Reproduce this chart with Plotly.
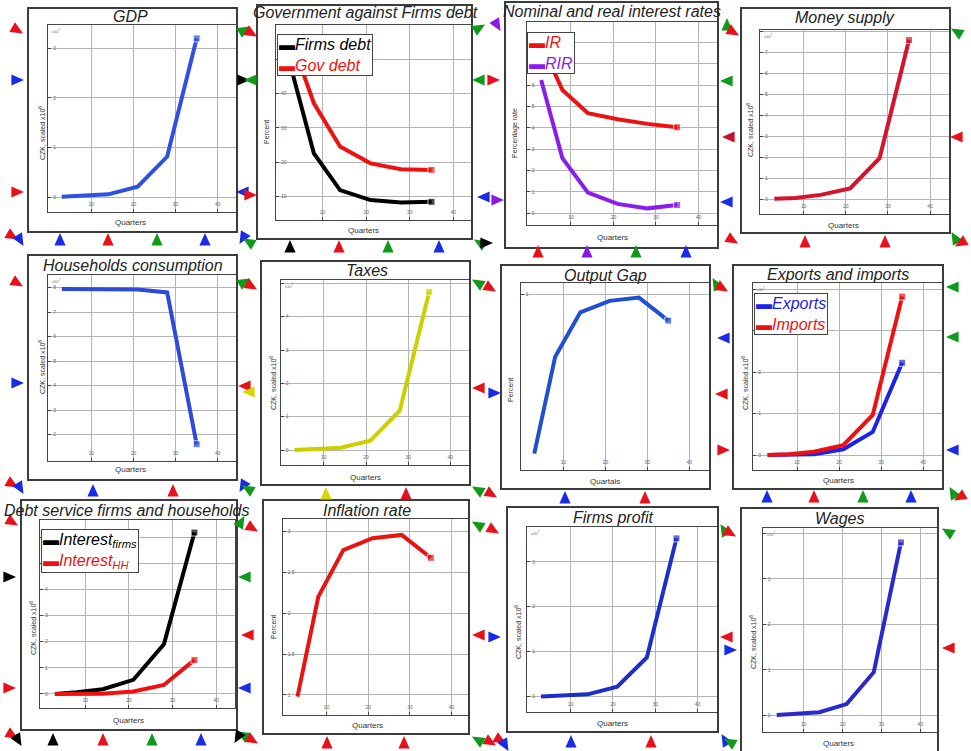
import math
import plotly.graph_objects as go

W, H = 971, 751

# ---------------- data ----------------
quarters = [3, 8, 14, 21, 28, 35]
x_ticks = [0, 10, 20, 30, 40]

gdp = [0.013, 0.027, 0.06, 0.215, 0.82, 3.2]
firms_debt = [46.4, 22.6, 11.9, 9.0, 8.3, 8.5]
gov_debt = [55.1, 37.2, 24.6, 19.7, 18.0, 17.8]
ir = [7.97, 5.78, 4.69, 4.41, 4.19, 4.03]
rir = [6.25, 2.58, 0.97, 0.44, 0.23, 0.39]
money_supply = [0.03, 0.06, 0.21, 0.52, 1.95, 7.57]
hh_consumption = [7.95, 7.95, 7.95, 7.93, 7.81, 1.61]
taxes = [0.0, 0.02, 0.07, 0.28, 1.18, 4.75]
output_gap = [0.03, 0.62, 0.89, 0.96, 0.98, 0.84]
exports = [0.0, 0.01, 0.02, 0.14, 0.56, 2.23]
imports = [0.0, 0.02, 0.08, 0.24, 0.97, 3.83]
interest_firms = [0.0, 0.06, 0.18, 0.54, 1.90, 6.17]
interest_hh = [0.0, 0.0, 0.01, 0.09, 0.34, 1.30]
inflation = [-0.04, 2.41, 3.55, 3.84, 3.92, 3.36]
firms_profit = [0.0, 0.015, 0.05, 0.22, 0.87, 3.52]
wages = [0.01, 0.03, 0.07, 0.25, 0.95, 3.80]

titles = ["GDP", "Government against Firms debt", "Nominal and real interest rates",
          "Money supply", "Households consumption", "Taxes", "Output Gap",
          "Exports and imports", "Debt service firms and households",
          "Inflation rate", "Firms profit", "Wages"]
czk = "CZK, scaled x10<sup>6</sup>"

# ---------------- helpers ----------------
def px(x):
    return x / W

def py(y):
    return 1 - y / H

RED = "#ee1111"

# yt / ytt: labelled y ticks; gstep: spacing of the horizontal grid lines
panels = [
    dict(frame=(28, 8, 237, 232), plot=(48.3, 25, 236.7, 211.7), xr=(-0.2, 44.5), yr=(-0.29, 3.47),
         yt=[0, 1, 2, 3], ytt=["0", "1", "2", "3"], gstep=1, tpos=(130, 16), ytitle=czk,
         ytpos=(42, 133), xtitle="Quarters", xtpos=(130, 222), mult=True,
         series=[("GDP", gdp, "#3050e2")]),
    dict(frame=(257, 5, 472, 239), plot=(276, 25, 472, 220), xr=(-0.7, 44.3), yr=(3.2, 60),
         yt=[10, 20, 30, 40], ytt=["10", "20", "30", "40"], gstep=10, tpos=(365, 13),
         ytitle="Percent", ytpos=(267, 132), xtitle="Quarters", xtpos=(363, 230), mult=False,
         series=[("Firms debt", firms_debt, "#000000"), ("Gov debt", gov_debt, RED)],
         legend=(277, 34)),
    dict(frame=(505, 2, 718, 248), plot=(526.7, 21.7, 716.7, 225), xr=(-0.4, 44.3), yr=(-0.55, 8.98),
         yt=list(range(0, 7)), ytt=[str(v) for v in range(0, 7)], gstep=1, tpos=(612, 12),
         ytitle="Percentage rate", ytpos=(515, 133), xtitle="Quarters", xtpos=(612, 237), mult=False,
         series=[("IR", ir, RED), ("RIR", rir, "#8a1cf0")], legend=(527, 32)),
    dict(frame=(741, 8, 950, 233), plot=(760, 30, 949, 214), xr=(-0.4, 44.5), yr=(-0.7, 8.05),
         yt=list(range(0, 8)), ytt=[str(v) for v in range(0, 8)], gstep=1, tpos=(845, 17),
         ytitle=czk, ytpos=(750, 130), xtitle="Quarters", xtpos=(843, 225), mult=True,
         series=[("Money supply", money_supply, "#d3142c")]),
    dict(frame=(28, 255, 237, 480), plot=(48.3, 275, 236.7, 460.7), xr=(-0.2, 44.5), yr=(0.94, 8.52),
         yt=list(range(2, 9)), ytt=[str(v) for v in range(2, 9)], gstep=1, tpos=(133, 265),
         ytitle=czk, ytpos=(42, 367), xtitle="Quarters", xtpos=(130, 470), mult=True,
         series=[("Households consumption", hh_consumption, "#2d4ad8")]),
    dict(frame=(261, 261, 470, 485), plot=(280.7, 280, 469.3, 465), xr=(-0.24, 44.5), yr=(-0.45, 5.1),
         yt=list(range(0, 5)), ytt=[str(v) for v in range(0, 5)], gstep=1, tpos=(367, 270),
         ytitle=czk, ytpos=(273, 383), xtitle="Quarters", xtpos=(365, 477), mult=True,
         series=[("Taxes", taxes, "#cdd000")]),
    dict(frame=(501, 265, 710, 489), plot=(520.7, 283.3, 709.3, 470), xr=(-0.24, 44.8), yr=(-0.07, 1.067),
         yt=[1], ytt=["1"], gstep=None, tpos=(605, 275), ytitle="Percent", ytpos=(510, 390),
         xtitle="Quartals", xtpos=(605, 481), mult=False,
         series=[("Output gap", output_gap, "#2050d0")]),
    dict(frame=(733, 265, 943, 489), plot=(753.3, 283.3, 941.7, 470), xr=(-0.4, 44.4), yr=(-0.36, 4.15),
         yt=[0, 1, 2], ytt=["0", "1", "2"], gstep=1, tpos=(838, 274), ytitle=czk,
         ytpos=(745, 383), xtitle="Quarters", xtpos=(838, 480), mult=True,
         series=[("Exports", exports, "#1c22e8"), ("Imports", imports, RED)], legend=(754, 293)),
    dict(frame=(21, 500, 237, 730), plot=(40, 520, 235, 708.3), xr=(-0.4, 44.3), yr=(-0.55, 6.65),
         yt=list(range(0, 5)), ytt=[str(v) for v in range(0, 5)], gstep=1, tpos=(126, 510),
         ytitle=czk, ytpos=(33, 628), xtitle="Quarters", xtpos=(128, 720), mult=False,
         series=[("Interest<sub>firms</sub>", interest_firms, "#000000"),
                 ("Interest<sub>HH</sub>", interest_hh, RED)], legend=(41, 529)),
    dict(frame=(263, 500, 469, 734), plot=(282.7, 519, 468.7, 715), xr=(-0.55, 44.1), yr=(-0.49, 4.31),
         yt=[0, 1, 2, 3, 4], ytt=["1", "1.5", "2", "2.5", "3"], gstep=1, tpos=(367, 510),
         ytitle="Percent", ytpos=(273, 627), xtitle="Quarters", xtpos=(367, 725), mult=False,
         series=[("Inflation rate", inflation, "#e81414")]),
    dict(frame=(507, 507, 718, 732), plot=(527.3, 526.7, 716.7, 712.3), xr=(-0.24, 44.5), yr=(-0.35, 3.78),
         yt=[0, 1, 2, 3], ytt=["0", "1", "2", "3"], gstep=1, tpos=(613, 517), ytitle=czk,
         ytpos=(518, 632), xtitle="Quarters", xtpos=(612, 723), mult=True,
         series=[("Firms profit", firms_profit, "#1e2ec8")]),
    dict(frame=(741, 508, 938, 770), plot=(762.7, 528.3, 936.7, 732.3), xr=(-0.6, 44.2), yr=(-0.37, 4.11),
         yt=[0, 1, 2, 3], ytt=["0", "1", "2", "3"], gstep=1, tpos=(840, 518), ytitle=czk,
         ytpos=(753, 642), xtitle="Quarters", xtpos=(838, 743), mult=True,
         series=[("Wages", wages, "#2a2acc")]),
]

fig = go.Figure()
shapes = []
annotations = []
layout_axes = {}

TXT = "#222222"
FONT = "Liberation Sans, Arial, sans-serif"
GRID = "#b4b4b4"

for i, p in enumerate(panels, start=1):
    sx = "" if i == 1 else str(i)
    l, t, r, b = p["plot"]
    common = dict(showgrid=True, gridcolor=GRID, gridwidth=1.2, showline=True,
                  linecolor="#444444", linewidth=1, mirror=True, ticks="inside", ticklen=3,
                  tickcolor="#444444", ticklabelposition="inside",
                  tickfont=dict(size=5, color="#666666", family=FONT), zeroline=False,
                  fixedrange=True)
    layout_axes["xaxis" + sx] = dict(domain=[px(l), px(r)], anchor="y" + sx, range=list(p["xr"]),
                                     tickvals=x_ticks, ticktext=[str(v) for v in x_ticks], **common)
    ycfg = dict(domain=[py(b), py(t)], anchor="x" + sx, range=list(p["yr"]),
                tickvals=p["yt"], ticktext=p["ytt"], **common)
    if p["gstep"]:
        ycfg["minor"] = dict(tick0=0, dtick=p["gstep"], showgrid=True, gridcolor=GRID,
                             gridwidth=1.2, ticks="inside", ticklen=3, tickcolor="#444444")
    layout_axes["yaxis" + sx] = ycfg
    for name, vals, col in p["series"]:
        fig.add_trace(go.Scatter(
            x=quarters, y=vals, name=name, mode="lines+markers",
            line=dict(color=col, width=4),
            marker=dict(symbol="square", color=col,
                        size=[0] * (len(quarters) - 1) + [7]),
            xaxis="x" + sx, yaxis="y" + sx, showlegend=False, cliponaxis=True))
    # frame
    fl, ft, fr, fb = p["frame"]
    shapes.append(dict(type="rect", xref="paper", yref="paper", x0=px(fl), x1=px(fr),
                       y0=py(fb), y1=py(ft), line=dict(color="#3c3c3c", width=2),
                       fillcolor="rgba(0,0,0,0)", layer="above"))
    # title
    annotations.append(dict(x=px(p["tpos"][0]), y=py(p["tpos"][1]), xref="paper", yref="paper",
                            text="<i>" + titles[i - 1] + "</i>", showarrow=False,
                            xanchor="center", yanchor="middle",
                            font=dict(size=16, color=TXT, family=FONT)))
    annotations.append(dict(x=px(p["ytpos"][0]), y=py(p["ytpos"][1]), xref="paper", yref="paper",
                            text=p["ytitle"], showarrow=False, textangle=-90,
                            xanchor="center", yanchor="middle",
                            font=dict(size=7, color="#333333", family=FONT)))
    annotations.append(dict(x=px(p["xtpos"][0]), y=py(p["xtpos"][1]), xref="paper", yref="paper",
                            text=p["xtitle"], showarrow=False, xanchor="center", yanchor="middle",
                            font=dict(size=8, color="#333333", family=FONT)))
    if p["mult"]:
        annotations.append(dict(x=px(l + 2), y=py(t + 1), xref="paper", yref="paper",
                                text="x10<sup>7</sup>", showarrow=False, xanchor="left",
                                yanchor="top", font=dict(size=4, color="#666666", family=FONT)))
    if "legend" in p:
        lines = []
        for name, vals, col in p["series"]:
            lines.append("<span style='color:%s'>▬</span><span style='color:%s'><i>%s</i></span>"
                         % (col, col, name))
        annotations.append(dict(x=px(p["legend"][0]), y=py(p["legend"][1]), xref="paper",
                                yref="paper", text="<br>".join(lines), showarrow=False,
                                xanchor="left", yanchor="top", align="left",
                                bgcolor="white", bordercolor="#444444", borderwidth=1,
                                borderpad=1, font=dict(size=16, color=TXT, family=FONT)))

# ---------------- decorative triangle handles ----------------
R, B, G, K, P, Y = "#e8101a", "#1a2be8", "#0f9a1a", "#000000", "#8a1ae8", "#d6d600"
DR = "#c8102e"
handles = [
    # left column
    (17, 30, -30, R), (17, 80, 0, B), (17, 192, 0, R), (12, 236, -30, R), (20, 240, -60, B),
    (17, 283, -30, R), (17, 383, 0, B), (12, 484, -30, R), (20, 488, -60, B),
    (12, 522, -30, R), (9, 577, 0, K), (9, 688, 0, R), (12, 735, -30, R), (18, 740, -60, K),
    # row 1 bottoms
    (60, 240, 90, B), (108, 240, 90, R), (157, 240, 90, G), (205, 240, 90, B),
    (290, 247, 90, K), (339, 247, 90, R), (388, 247, 90, G), (439, 247, 90, B),
    (538, 252, 90, R), (587, 252, 90, P), (636, 252, 90, G), (686, 252, 90, B),
    (805, 242, 90, R), (885, 242, 90, R),
    # row 1 gaps
    (244, 30, 30, G), (251, 33, -30, R), (243, 80, 0, K), (251, 80, 180, G),
    (243, 192, 180, B), (250, 195, 0, R), (243, 238, -120, B), (249, 242, 150, G),
    (479, 28, 30, G), (479, 80, 180, G), (493, 80, 0, R), (484, 197, 180, B), (497, 200, 0, P),
    (497, 25, -60, P), (480, 243, 150, G), (486, 243, 0, K),
    (727, 25, 90, G), (733, 32, -30, R), (727, 81, 180, G), (729, 137, 180, DR),
    (727, 202, 180, B), (732, 240, -30, R),
    (957, 32, 150, G), (957, 137, 180, R), (955, 238, 120, G), (961, 243, -150, R),
    # row 2 gaps
    (244, 282, 30, G), (251, 286, -30, R), (245, 386, 180, R), (249, 392, 180, Y),
    (243, 486, -120, B), (248, 489, 150, G),
    (478, 283, 150, G), (490, 288, -30, R), (479, 388, 180, R), (494, 393, 0, B),
    (478, 490, 150, G), (491, 494, -30, R),
    (716, 284, 120, G), (722, 288, -30, R), (724, 338, 180, B), (722, 394, 180, R),
    (723, 450, 0, R),
    (953, 287, 180, G), (953, 337, 180, G), (953, 450, 180, B), (953, 493, 120, G), (960, 497, -150, R),
    # row 2 bottoms
    (93, 491, 90, B), (173, 491, 90, R), (326, 494, 90, Y), (406, 494, 90, R),
    (565, 498, 90, B), (645, 498, 90, R), (767, 497, 90, B), (814, 497, 90, R),
    (863, 497, 90, G), (911, 497, 90, B),
    # row 3 gaps
    (241, 522, 60, G), (252, 528, -30, R), (245, 577, 180, G), (248, 635, 180, R),
    (245, 688, 180, B), (243, 735, 150, G), (252, 740, -30, R), (238, 737, -120, K),
    (478, 525, 150, G), (493, 530, -30, R), (479, 635, 180, R), (494, 637, 0, B),
    (478, 740, 150, G), (490, 742, -30, R), (500, 740, -30, R), (505, 745, -60, B),
    (724, 530, 120, G), (730, 533, -30, R), (727, 637, 180, R), (730, 650, 0, B),
    (725, 740, 120, B), (730, 742, 150, G),
    (948, 532, 150, G), (949, 648, 180, R),
    # row 3 bottoms
    (53, 740, 90, K), (103, 740, 90, R), (152, 740, 90, G), (201, 740, 90, B),
    (327, 743, 90, R), (404, 743, 90, R), (571, 742, 90, B), (651, 742, 90, R),
]

S = 7.0
for cx, cy, ang, col in handles:
    a = math.radians(ang)
    dx, dy = math.cos(a), -math.sin(a)
    nx, ny = -dy, dx
    tip = (cx + S * dx, cy + S * dy)
    b1 = (cx - 0.8 * S * dx + 0.8 * S * nx, cy - 0.8 * S * dy + 0.8 * S * ny)
    b2 = (cx - 0.8 * S * dx - 0.8 * S * nx, cy - 0.8 * S * dy - 0.8 * S * ny)
    path = "M %.5f,%.5f L %.5f,%.5f L %.5f,%.5f Z" % (
        px(tip[0]), py(tip[1]), px(b1[0]), py(b1[1]), px(b2[0]), py(b2[1]))
    shapes.append(dict(type="path", xref="paper", yref="paper", path=path,
                       fillcolor=col, line=dict(width=0), layer="above"))

fig.update_layout(
    width=W, height=H, autosize=False,
    margin=dict(l=0, r=0, t=0, b=0),
    paper_bgcolor="white", plot_bgcolor="white",
    showlegend=False,
    shapes=shapes, annotations=annotations,
    font=dict(family=FONT),
    **layout_axes,
)

fig.write_html("out.html", config={"displayModeBar": False})
